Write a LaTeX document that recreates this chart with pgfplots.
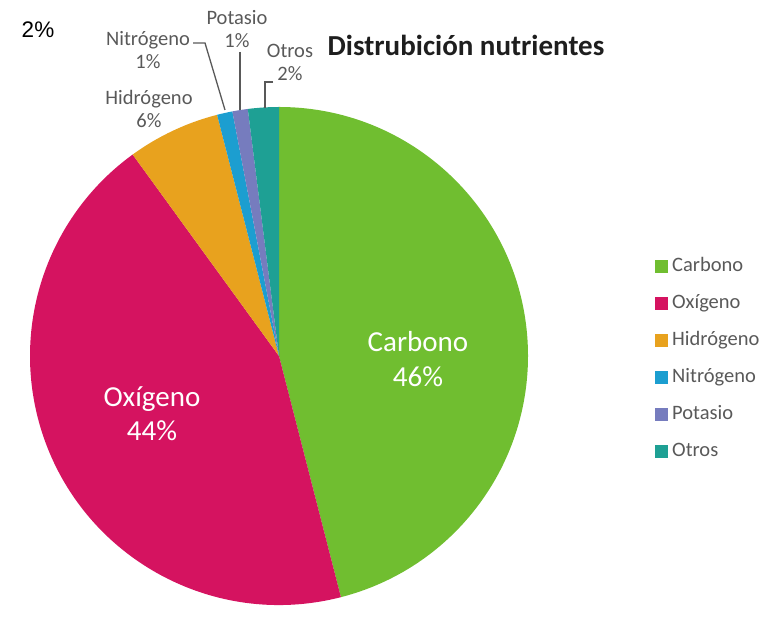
\documentclass[border=0pt]{standalone}
\usepackage{pgfplots}
\usepackage{pgfplotstable}
\pgfplotsset{compat=1.18}
\usepackage{fontspec}
\setmainfont{Carlito}
\newfontfamily\arialfont{Liberation Sans}

\definecolor{cCarb}{RGB}{112,190,48}
\definecolor{cOxi}{RGB}{213,19,96}
\definecolor{cHid}{RGB}{232,162,30}
\definecolor{cNit}{RGB}{28,158,208}
\definecolor{cPot}{RGB}{118,124,190}
\definecolor{cOtr}{RGB}{30,160,148}
\definecolor{lblgray}{RGB}{89,89,89}
\definecolor{ttl}{RGB}{30,30,30}

\pgfplotstableread[col sep=comma]{
name,value,color
Carbono,46,cCarb
Oxigeno,44,cOxi
Hidrogeno,6,cHid
Nitrogeno,1,cNit
Potasio,1,cPot
Otros,2,cOtr
}\piedata

\begin{document}
\begin{tikzpicture}
\begin{axis}[
  width=775pt, height=607pt, scale only axis,
  xmin=0, xmax=775, ymin=0, ymax=607,
  hide axis, clip=false,
  legend image code/.code={\fill[#1, draw=none] (0pt,-6.5pt) rectangle (13pt,6.5pt);},
  legend cell align=left,
  legend style={at={(axis cs:655,350)}, anchor=north west, draw=none, fill=none,
    inner sep=0pt, row sep=19pt, column sep=4pt,
    font=\fontsize{20.5}{21}\selectfont\color{lblgray},
    nodes={inner sep=0pt, text height=14pt, text depth=4pt}},
]
\addlegendimage{fill=cCarb}\addlegendentry{Carbono}
\addlegendimage{fill=cOxi}\addlegendentry{Oxígeno}
\addlegendimage{fill=cHid}\addlegendentry{Hidrógeno}
\addlegendimage{fill=cNit}\addlegendentry{Nitrógeno}
\addlegendimage{fill=cPot}\addlegendentry{Potasio}
\addlegendimage{fill=cOtr}\addlegendentry{Otros}

\pgfplotsextra{
  \path (rel axis cs:0,0) rectangle (rel axis cs:1,1);
  \pgfplotstablegetrowsof{\piedata}
  \pgfmathtruncatemacro\N{\pgfplotsretval-1}
  \gdef\cum{0}
  \foreach \i in {0,...,\N}{
    \pgfplotstablegetelem{\i}{value}\of\piedata \let\v\pgfplotsretval
    \pgfplotstablegetelem{\i}{color}\of\piedata \let\c\pgfplotsretval
    \pgfmathsetmacro\a{90-3.6*\cum}
    \pgfmathsetmacro\b{90-3.6*(\cum+\v)}
    \fill[fill=\c] (axis cs:279,251) -- ++(\a:249pt) arc[start angle=\a, end angle=\b, radius=249pt] -- cycle;
    \pgfmathsetmacro\newcum{\cum+\v}\xdef\cum{\newcum}
  }
  % leader lines
  \draw[lblgray, line width=1.3pt] (axis cs:193,564) -- (axis cs:205,564) -- (axis cs:225,497);
  \draw[lblgray, line width=1.3pt] (axis cs:240,555) -- (axis cs:240,497);
  \draw[lblgray, line width=1.3pt] (axis cs:273,525) -- (axis cs:265,525) -- (axis cs:265,499);
  % labels
  \node[align=center, text=lblgray, font=\fontsize{20.5}{23}\selectfont] at (axis cs:149,498.5) {Hidrógeno\\6\%};
  \node[align=center, text=lblgray, font=\fontsize{20.5}{23}\selectfont] at (axis cs:148,556.5) {Nitrógeno\\1\%};
  \node[align=center, text=lblgray, font=\fontsize{20.5}{23}\selectfont] at (axis cs:237,577.5) {Potasio\\1\%};
  \node[align=center, text=lblgray, font=\fontsize{20.5}{23}\selectfont] at (axis cs:290,544.5) {Otros\\2\%};
  \node[align=center, text=white, font=\fontsize{29}{35}\selectfont] at (axis cs:418,247.5) {Carbono\\46\%};
  \node[align=center, text=white, font=\fontsize{29}{34}\selectfont] at (axis cs:152,193.5) {Oxígeno\\44\%};
  \node[text=ttl, font=\fontsize{29}{32}\selectfont\bfseries] at (axis cs:466,562) {Distrubición nutrientes};
  \node[text=black, font=\arialfont\fontsize{22.5}{26}\selectfont] at (axis cs:38,577) {2\%};
}
\end{axis}
\end{tikzpicture}
\end{document}
